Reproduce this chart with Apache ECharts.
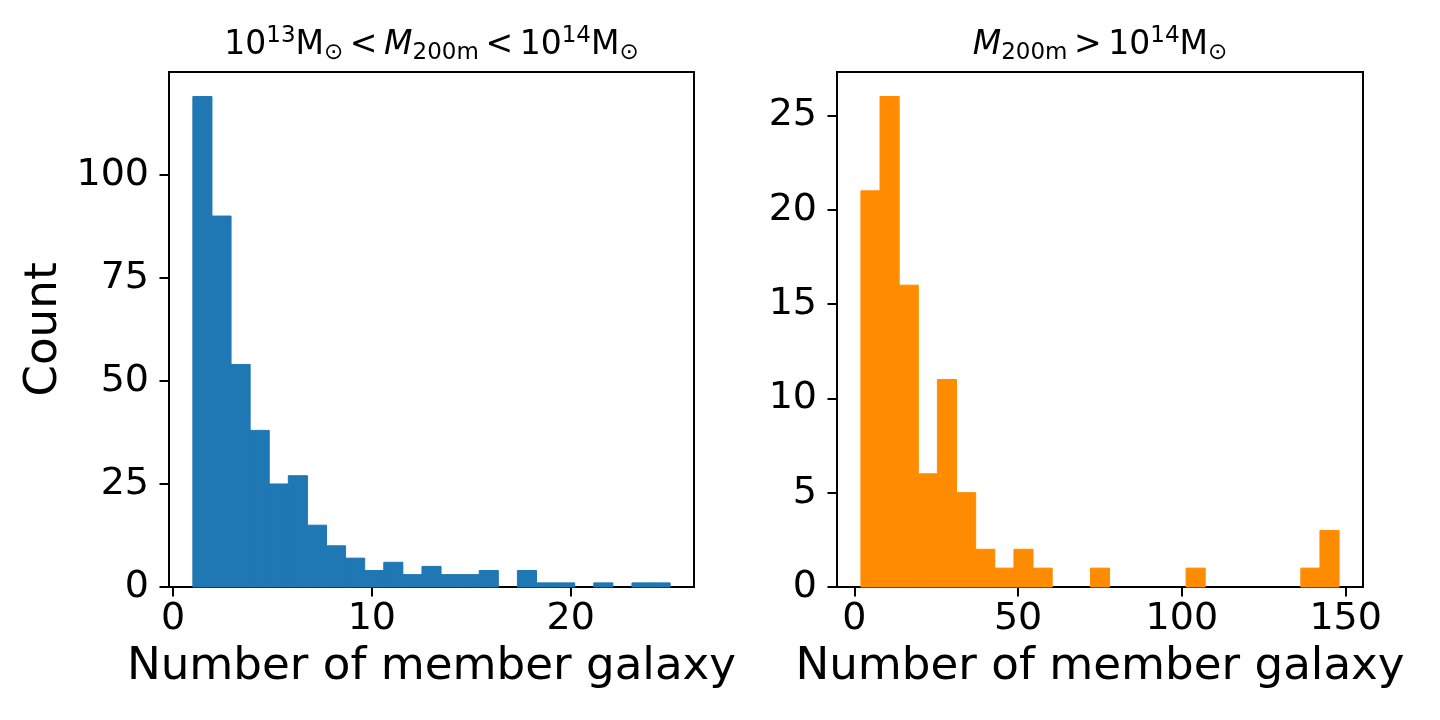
<!DOCTYPE html>
<html>
<head>
<meta charset="utf-8">
<script src="https://cdn.jsdelivr.net/npm/echarts@6/dist/echarts.min.js"></script>
<style>
html,body{margin:0;padding:0;background:#fff;}
#chart{width:1440px;height:720px;}
</style>
</head>
<body>
<div id="chart"></div>
<script>
// ---- data ----
// Left panel: 10^13 < M200m < 10^14, 25 bins between 1 and 25
const leftRange = [1, 25];
const leftCounts = [119, 90, 54, 38, 25, 27, 15, 10, 7, 4, 6, 3, 5, 3, 3, 4, 0, 4, 1, 1, 0, 1, 0, 1, 1];
// Right panel: M200m > 10^14, 25 bins between 2 and 148
const rightRange = [2, 148];
const rightCounts = [21, 26, 16, 6, 11, 5, 2, 1, 2, 1, 0, 0, 1, 0, 0, 0, 0, 1, 0, 0, 0, 0, 0, 1, 3];
const leftXTicks = [0, 10, 20];
const rightXTicks = [0, 50, 100, 150];
const leftYTicks = [0, 25, 50, 75, 100];
const rightYTicks = [0, 5, 10, 15, 20, 25];

function makeBins(range, counts) {
  const w = (range[1] - range[0]) / counts.length;
  return counts.map((c, i) => [range[0] + i * w, range[0] + (i + 1) * w, c]);
}
function pad(range, f) { const d = (range[1] - range[0]) * f; return [range[0] - d, range[1] + d]; }

const leftBins = makeBins(leftRange, leftCounts);
const rightBins = makeBins(rightRange, rightCounts);
const leftX = pad(leftRange, 0.05);
const rightX = pad(rightRange, 0.05);
const leftYMax = Math.max(...leftCounts) * 1.05;
const rightYMax = Math.max(...rightCounts) * 1.05;

const FONT = 'DejaVu Sans';
const tickFont = 38;
const labelFont = 45.2;

function xAxisCfg(idx, range, ticks) {
  return {
    type: 'value', gridIndex: idx, min: range[0], max: range[1],
    name: 'Number of member galaxy', nameLocation: 'middle', nameGap: 58,
    nameTextStyle: {fontFamily: FONT, fontSize: labelFont, color: '#000'},
    axisLine: {show: true, onZero: false, lineStyle: {color: '#000', width: 2}},
    axisTick: {show: true, inside: false, length: 9.5, lineStyle: {color: '#000', width: 2}, customValues: ticks},
    axisLabel: {fontFamily: FONT, fontSize: tickFont, color: '#000', margin: 13, customValues: ticks},
    splitLine: {show: false}
  };
}
function yAxisCfg(idx, max, ticks, name) {
  return {
    type: 'value', gridIndex: idx, min: 0, max: max,
    name: name, nameLocation: 'middle', nameGap: 102,
    nameTextStyle: {fontFamily: FONT, fontSize: labelFont, color: '#000'},
    axisLine: {show: true, onZero: false, lineStyle: {color: '#000', width: 2}},
    axisTick: {show: true, inside: false, length: 9.5, lineStyle: {color: '#000', width: 2}, customValues: ticks},
    axisLabel: {fontFamily: FONT, fontSize: tickFont, color: '#000', margin: 20, customValues: ticks},
    splitLine: {show: false}
  };
}
function histSeries(idx, bins, color) {
  return {
    type: 'custom', xAxisIndex: idx, yAxisIndex: idx,
    encode: {x: [0, 1], y: 2},
    data: bins,
    renderItem: function (params, api) {
      const p0 = api.coord([api.value(0), api.value(2)]);
      const p1 = api.coord([api.value(1), 0]);
      const h = p1[1] - p0[1];
      if (h <= 0) return null;
      return {type: 'rect', shape: {x: p0[0], y: p0[1], width: p1[0] - p0[0], height: h},
              style: {fill: color, stroke: color, lineWidth: 1}};
    }
  };
}

const rich = {
  n: {fontFamily: FONT, fontSize: 33, lineHeight: 40, color: '#000'},
  it: {fontFamily: FONT, fontSize: 33, fontStyle: 'italic', lineHeight: 40, color: '#000'},
  sup: {fontFamily: FONT, fontSize: 23, lineHeight: 23, verticalAlign: 'top', color: '#000'},
  sub: {fontFamily: FONT, fontSize: 23, lineHeight: 23, verticalAlign: 'bottom', color: '#000'}
};
const leftTitle = '{n|10}{sup|13}{n|M}{sub|⊙}{n|\u2009<\u2009}{it|M}{sub|200m}{n|\u2009<\u2009}{n|10}{sup|14}{n|M}{sub|⊙}';
const rightTitle = '{it|M}{sub|200m}{n|\u2009>\u2009}{n|10}{sup|14}{n|M}{sub|⊙}';

const chart = echarts.init(document.getElementById('chart'), null, {renderer: 'canvas'});
chart.setOption({
  animation: false,
  backgroundColor: '#fff',
  grid: [
    {left: 169, top: 72, width: 525, height: 515, show: true, borderColor: '#000', borderWidth: 2, containLabel: false},
    {left: 837, top: 72, width: 526, height: 515, show: true, borderColor: '#000', borderWidth: 2, containLabel: false}
  ],
  xAxis: [xAxisCfg(0, leftX, leftXTicks), xAxisCfg(1, rightX, rightXTicks)],
  yAxis: [yAxisCfg(0, leftYMax, leftYTicks, 'Count'), yAxisCfg(1, rightYMax, rightYTicks, '')],
  series: [histSeries(0, leftBins, '#1f77b4'), histSeries(1, rightBins, '#ff8c00')],
  graphic: [
    {type: 'text', x: 431.5, y: 25, style: {text: leftTitle, rich: rich, align: 'center', verticalAlign: 'top', fill: '#000', fontFamily: FONT, fontSize: 33}},
    {type: 'text', x: 1100, y: 25, style: {text: rightTitle, rich: rich, align: 'center', verticalAlign: 'top', fill: '#000', fontFamily: FONT, fontSize: 33}}
  ]
});
</script>
</body>
</html>
